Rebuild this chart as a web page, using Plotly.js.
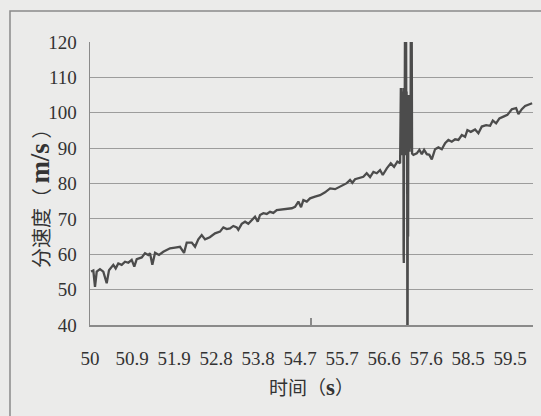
<!DOCTYPE html>
<html>
<head>
<meta charset="utf-8">
<script src="https://cdn.plot.ly/plotly-3.0.1.min.js"></script>
<style>
  html, body { margin: 0; padding: 0; background: #ebebea; }
  #chart { width: 541px; height: 416px; }
</style>
</head>
<body>
<div id="chart"></div>
<script>
// Time (s)
const timeS = [
  50.023, 50.075, 50.113, 50.152, 50.226, 50.301, 50.378, 50.430, 50.527, 50.581,
  50.640, 50.717, 50.792, 50.867, 50.943, 51.002, 51.057, 51.170, 51.244, 51.319,
  51.357, 51.410, 51.471, 51.561, 51.658, 51.735, 51.810, 51.923, 52.036, 52.127,
  52.188, 52.301, 52.376, 52.450, 52.527, 52.602, 52.710, 52.828, 52.941, 53.016,
  53.093, 53.167, 53.242, 53.319, 53.355, 53.432, 53.507, 53.581, 53.658, 53.733,
  53.794, 53.846, 53.921, 53.998, 54.072, 54.147, 54.224, 54.337, 54.450, 54.563,
  54.638, 54.713, 54.774, 54.826, 54.903, 54.977, 55.090, 55.204, 55.317, 55.430,
  55.543, 55.656, 55.731, 55.808, 55.882, 55.934, 55.995, 56.093, 56.183, 56.258,
  56.335, 56.410, 56.486, 56.561, 56.622, 56.713, 56.803, 56.878, 56.952, 57.014,
  57.020, 57.025, 57.031, 57.036, 57.042, 57.048, 57.053, 57.059, 57.065, 57.070,
  57.076, 57.081, 57.087, 57.093, 57.098, 57.104, 57.110, 57.115, 57.121, 57.127,
  57.132, 57.138, 57.144, 57.149, 57.155, 57.161, 57.166, 57.172, 57.178, 57.183,
  57.189, 57.195, 57.200, 57.206, 57.212, 57.217, 57.223, 57.229, 57.234, 57.240,
  57.246, 57.251, 57.257, 57.263, 57.268, 57.274, 57.280, 57.285,
  57.315, 57.391, 57.450, 57.505, 57.557, 57.618, 57.676, 57.731,
  57.805, 57.880, 57.957, 58.032, 58.106, 58.183, 58.258, 58.333, 58.410, 58.484,
  58.536, 58.613, 58.710, 58.785, 58.862, 58.959, 59.050, 59.111, 59.186, 59.260,
  59.351, 59.441, 59.541, 59.638, 59.690, 59.767, 59.842, 59.941, 60.000
];
// Component velocity (m/s)
const speed = [
  55.1, 55.4, 50.8, 55.1, 55.8, 55.1, 51.8, 55.5, 57.0, 56.0,
  57.4, 57.0, 57.9, 57.6, 58.4, 56.5, 58.6, 59.1, 60.3, 59.8,
  60.3, 57.0, 60.4, 59.8, 60.7, 61.2, 61.7, 61.9, 62.1, 60.4,
  63.3, 63.3, 62.1, 64.2, 65.4, 64.2, 64.8, 65.9, 66.4, 67.6,
  67.1, 67.3, 68.0, 67.6, 66.9, 68.6, 69.2, 68.6, 69.7, 70.6,
  69.2, 71.1, 71.6, 71.4, 72.0, 71.7, 72.5, 72.7, 73.0, 73.0,
  73.4, 74.9, 73.3, 75.3, 74.9, 75.8, 76.3, 76.7, 77.5, 78.6,
  78.4, 79.1, 79.6, 80.1, 81.0, 80.2, 81.2, 81.5, 81.9, 82.9,
  81.8, 83.3, 82.9, 83.8, 82.4, 84.3, 85.7, 84.7, 86.2, 85.7,
  104, 90, 107, 89, 106, 92, 104, 88, 106, 90,
  105, 89, 107, 60, 57.5, 95, 106, 88, 130, 135,
  92, 104, 89, 130, 90, 106, 88, 104, 30, 25,
  90, 65, 100, 89, 105, 90, 103, 89, 100, 91,
  104, 90, 135, 130, 90, 135, 89, 88.5,
  88.1, 88.5, 89.5, 88.3, 89.5, 88.3, 88.1, 86.8,
  89.7, 90.2, 89.7, 91.4, 92.3, 91.8, 92.5, 92.3, 93.7, 93.2,
  95.1, 94.6, 95.3, 94.2, 96.1, 96.5, 96.3, 97.8, 97.0, 98.4,
  98.9, 99.4, 101.0, 101.3, 99.6, 101.0, 101.9, 102.5, 102.7
];
// Category tick labels (every 20 samples)
const tickTimes = [50, 50.95, 51.9, 52.85, 53.8, 54.75, 55.7, 56.65, 57.6, 58.55, 59.5];
const tickLabels = ["50", "50.9", "51.9", "52.8", "53.8", "54.7", "55.7", "56.6", "57.6", "58.5", "59.5"];
const yTicks = [40, 50, 60, 70, 80, 90, 100, 110, 120];
const majorTicks = [50, 55, 60];

const numFont = 'Liberation Serif';
const cjkFont = 'Noto Sans CJK SC';
const textColor = '#333333';
const gridColor = '#9c9c9c';
const bg = '#ebebea';

const traces = [
  {
    x: timeS, y: speed, type: 'scatter', mode: 'lines',
    line: { color: '#4c4c4c', width: 2.3 },
    hoverinfo: 'skip', showlegend: false, cliponaxis: true
  },
  {
    x: majorTicks, y: [40, 40, 40], xaxis: 'x2', yaxis: 'y',
    type: 'scatter', mode: 'markers', marker: { opacity: 0 },
    hoverinfo: 'skip', showlegend: false
  }
];

const layout = {
  width: 541, height: 416,
  font: { family: numFont, color: textColor },
  paper_bgcolor: bg, plot_bgcolor: bg,
  margin: { l: 90, r: 8, t: 42, b: 91 },
  showlegend: false,
  xaxis: {
    type: 'linear', range: [50, 60.02], fixedrange: true,
    tickmode: 'array', tickvals: tickTimes, ticktext: tickLabels,
    ticks: '', showgrid: false, zeroline: false,
    showline: true, linecolor: '#8a8a8a', linewidth: 1.5,
    tickfont: { family: numFont, size: 19, color: textColor },
    ticklabelstandoff: 16,
    title: {
      text: '时间（<span style="font-family:Liberation Serif;font-size:23px;font-weight:bold">s</span>）',
      font: { family: cjkFont, size: 19, color: textColor },
      standoff: 13
    }
  },
  xaxis2: {
    overlaying: 'x', matches: 'x', range: [50, 60.02],
    tickmode: 'array', tickvals: majorTicks, ticks: 'inside', ticklen: 7,
    tickcolor: '#8a8a8a', tickwidth: 1.5,
    showticklabels: false, showgrid: false, zeroline: false, showline: false
  },
  yaxis: {
    range: [40, 120], fixedrange: true,
    tickmode: 'array', tickvals: yTicks,
    ticks: '', showgrid: true, gridcolor: gridColor, gridwidth: 1.2,
    zeroline: false, showline: true, linecolor: '#8a8a8a', linewidth: 1.5,
    tickfont: { family: numFont, size: 19, color: textColor },
    ticklabelstandoff: 8
  },
  annotations: [
    {
      text: '分速度（ <span style="font-family:Liberation Serif;font-size:27px;font-weight:bold">m/s</span> ）',
      xref: 'paper', yref: 'paper', x: -0.1129, y: 0.466,
      xanchor: 'center', yanchor: 'middle', textangle: -90, showarrow: false,
      font: { family: cjkFont, size: 20, color: textColor }
    }
  ],
  shapes: [
    {
      type: 'rect', xref: 'paper', yref: 'paper',
      x0: -0.1806, x1: 1.08, y0: -0.35, y1: 1.1095,
      line: { color: '#8a8a8a', width: 1.5 }, fillcolor: 'rgba(0,0,0,0)', layer: 'below'
    }
  ]
};

Plotly.newPlot('chart', traces, layout, { staticPlot: true, displayModeBar: false });
</script>
</body>
</html>
